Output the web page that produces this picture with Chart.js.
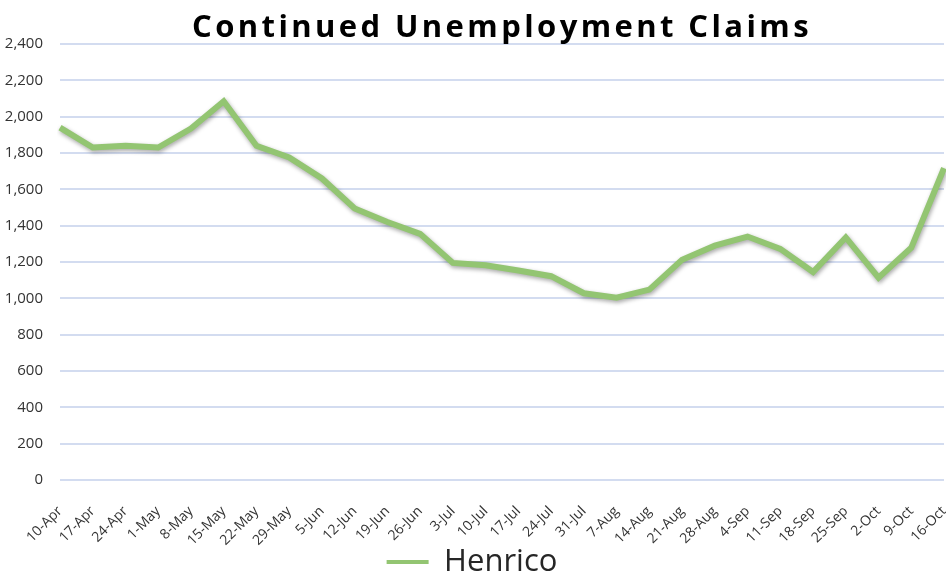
<!DOCTYPE html>
<html>
<head>
<meta charset="utf-8">
<script src="https://cdn.jsdelivr.net/npm/chart.js@4.4.1/dist/chart.umd.min.js"></script>
<style>
  html, body { margin: 0; padding: 0; background: #ffffff; }
  #wrap { width: 946px; height: 576px; overflow: hidden; }
</style>
</head>
<body>
<div id="wrap"><canvas id="claimsChart" width="946" height="576"></canvas></div>
<script>
// Weekly continued claims
const weeks = ['10-Apr', '17-Apr', '24-Apr', '1-May', '8-May', '15-May', '22-May', '29-May',
    '5-Jun', '12-Jun', '19-Jun', '26-Jun', '3-Jul', '10-Jul', '17-Jul', '24-Jul', '31-Jul',
    '7-Aug', '14-Aug', '21-Aug', '28-Aug', '4-Sep', '11-Sep', '18-Sep', '25-Sep', '2-Oct',
    '9-Oct', '16-Oct'];
const henrico = [1940, 1830, 1840, 1830, 1935, 2085, 1840, 1775, 1660, 1495, 1420, 1355,
    1195, 1182, 1153, 1122, 1028, 1004, 1048, 1212, 1290, 1340, 1272, 1145, 1335, 1114,
    1278, 1716];
const yTicks = [0, 200, 400, 600, 800, 1000, 1200, 1400, 1600, 1800, 2000, 2200, 2400];

const green = '#93c572';

// soft drop shadow under the line, like the Excel effect
const lineShadow = {
    id: 'lineShadow',
    beforeDatasetDraw(chart) {
        const c = chart.ctx;
        c.save();
        c.shadowColor = 'rgba(0, 0, 0, 0.35)';
        c.shadowBlur = 4;
        c.shadowOffsetX = 1;
        c.shadowOffsetY = 2;
    },
    afterDatasetDraw(chart) {
        chart.ctx.restore();
    }
};

const ctx = document.getElementById('claimsChart').getContext('2d');

const chart = new Chart(ctx, {
    type: 'line',
    data: {
        labels: weeks,
        datasets: [{
            label: 'Henrico',
            data: henrico,
            borderColor: green,
            backgroundColor: green,
            borderWidth: 6,
            tension: 0,
            pointRadius: 0,
            pointHoverRadius: 0,
            fill: false
        }]
    },
    options: {
        responsive: false,
        animation: false,
        layout: {
            // legend sits low, partly in its own bottom margin
            padding: { left: 0, right: 2, top: 0, bottom: -11.5 }
        },
        plugins: {
            title: {
                display: true,
                text: 'Continued Unemployment Claims',
                fullSize: false,
                color: '#000000',
                font: { family: 'Open Sans', size: 31, weight: 'bold', lineHeight: 1.0 },
                padding: { top: 13, bottom: 0 }
            },
            legend: {
                display: true,
                position: 'bottom',
                labels: {
                    color: '#262626',
                    font: { family: 'Open Sans', size: 31 },
                    boxWidth: 42,
                    boxHeight: 4,
                    padding: 0,
                    generateLabels: (ch) => Chart.defaults.plugins.legend.labels.generateLabels(ch)
                        .map(item => ({ ...item, lineWidth: 0 }))
                }
            },
            tooltip: { enabled: false }
        },
        scales: {
            x: {
                offset: false,
                grid: { display: false },
                border: { display: false },
                ticks: {
                    color: '#333333',
                    font: { family: 'Open Sans', size: 14 },
                    minRotation: 45,
                    maxRotation: 45,
                    autoSkip: false,
                    padding: 15
                },
                afterFit: (scale) => {
                    scale.height = 66.5;
                    scale.paddingLeft = 0;
                    scale.paddingRight = 0;
                }
            },
            y: {
                min: 0,
                max: 2400,
                afterBuildTicks: (scale) => {
                    scale.ticks = yTicks.map(v => ({ value: v }));
                },
                grid: {
                    color: '#d3dcf0',
                    lineWidth: 2,
                    drawTicks: false
                },
                border: { display: false },
                ticks: {
                    color: '#333333',
                    font: { family: 'Open Sans', size: 15 },
                    padding: 17,
                    callback: (v) => v.toLocaleString('en-US')
                },
                afterFit: (scale) => { scale.width = 60; }
            }
        }
    },
    plugins: [lineShadow]
});

// Excel title has wide tracking
const titleBox = chart.titleBlock;
const drawTitle = titleBox.draw.bind(titleBox);
titleBox.draw = () => {
    ctx.save();
    ctx.letterSpacing = '3.4px';
    drawTitle();
    ctx.restore();
};
chart.draw();
</script>
</body>
</html>
